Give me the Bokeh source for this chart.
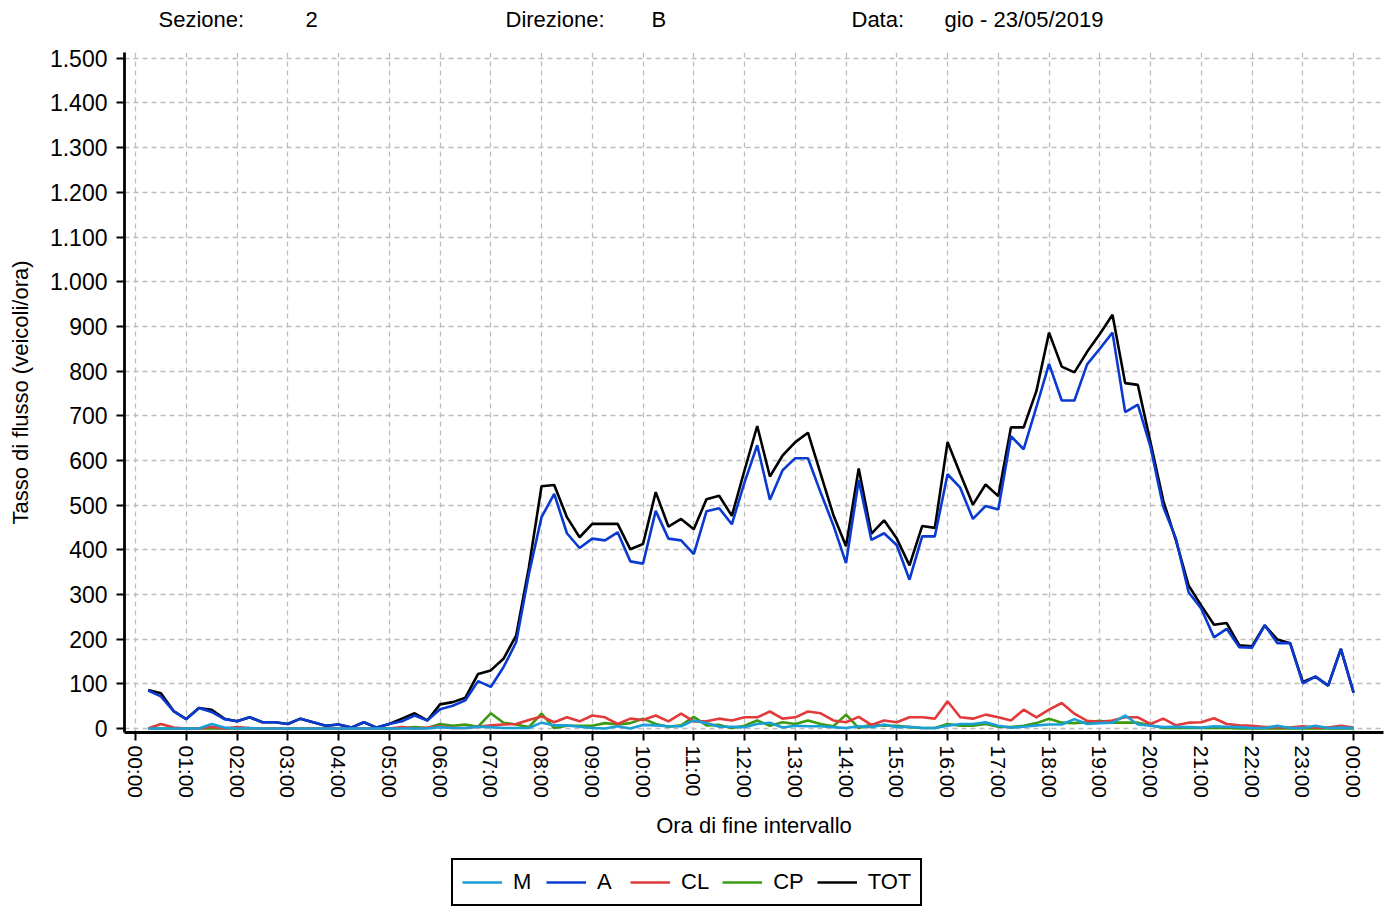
from bokeh.plotting import figure
from bokeh.models import Range1d, FixedTicker, Legend, LegendItem
from bokeh.layouts import column
from bokeh.core.properties import value
from bokeh.embed import file_html
from bokeh.resources import INLINE

# --- data -----------------------------------------------------------------
interval_end = [
    "00:15", "00:30", "00:45", "01:00", "01:15", "01:30", "01:45", "02:00",
    "02:15", "02:30", "02:45", "03:00", "03:15", "03:30", "03:45", "04:00",
    "04:15", "04:30", "04:45", "05:00", "05:15", "05:30", "05:45", "06:00",
    "06:15", "06:30", "06:45", "07:00", "07:15", "07:30", "07:45", "08:00",
    "08:15", "08:30", "08:45", "09:00", "09:15", "09:30", "09:45", "10:00",
    "10:15", "10:30", "10:45", "11:00", "11:15", "11:30", "11:45", "12:00",
    "12:15", "12:30", "12:45", "13:00", "13:15", "13:30", "13:45", "14:00",
    "14:15", "14:30", "14:45", "15:00", "15:15", "15:30", "15:45", "16:00",
    "16:15", "16:30", "16:45", "17:00", "17:15", "17:30", "17:45", "18:00",
    "18:15", "18:30", "18:45", "19:00", "19:15", "19:30", "19:45", "20:00",
    "20:15", "20:30", "20:45", "21:00", "21:15", "21:30", "21:45", "22:00",
    "22:15", "22:30", "22:45", "23:00", "23:15", "23:30", "23:45", "24:00",
]

tot = [86, 79, 39, 21, 46, 42, 22, 16, 25, 14, 14, 10, 22, 14, 6, 9, 2, 14, 2, 10, 22, 34, 18, 54,
       59, 69, 122, 130, 156, 208, 360, 542, 545, 473, 428, 458, 458, 458, 401, 413, 529, 452, 469, 446, 513, 521, 476, 578,
       677, 564, 611, 641, 662, 570, 478, 408, 582, 436, 466, 425, 365, 453, 449, 641, 570, 501, 546, 520, 674, 674, 755, 886,
       810, 797, 843, 883, 926, 773, 769, 640, 510, 421, 320, 275, 232, 236, 186, 184, 231, 199, 191, 104, 116, 96, 178, 80]

a = [85, 72, 39, 21, 46, 37, 21, 16, 25, 14, 14, 10, 22, 14, 6, 9, 2, 14, 2, 10, 16, 29, 18, 43,
     51, 63, 106, 93, 137, 193, 345, 473, 525, 437, 404, 425, 421, 439, 374, 369, 487, 425, 421, 390, 486, 493, 457, 551,
     634, 512, 578, 605, 605, 528, 455, 370, 556, 422, 437, 410, 333, 430, 430, 569, 539, 469, 498, 490, 654, 625, 719, 816,
     734, 734, 815, 850, 886, 708, 725, 630, 496, 425, 305, 268, 204, 223, 182, 181, 231, 191, 191, 101, 116, 96, 178, 80]

cl = [0, 10, 2, 0, 0, 4, 0, 3, 1, 0, 0, 0, 0, 0, 0, 0, 0, 0, 0, 0, 3, 0, 2, 5,
      1, 1, 4, 7, 9, 10, 19, 27, 14, 25, 16, 29, 25, 10, 22, 19, 29, 16, 33, 16, 16, 22, 18, 25,
      25, 38, 22, 25, 38, 34, 18, 14, 26, 8, 18, 14, 25, 25, 22, 61, 25, 22, 31, 25, 18, 42, 25, 42,
      57, 33, 17, 15, 18, 25, 25, 10, 22, 7, 13, 14, 23, 10, 7, 6, 3, 3, 2, 5, 2, 2, 6, 2]

cp = [0, 0, 0, 0, 0, 0, 0, 0, 0, 0, 0, 0, 0, 0, 0, 0, 0, 0, 0, 0, 1, 3, 1, 10,
      6, 9, 4, 34, 13, 9, 3, 33, 1, 6, 6, 6, 12, 9, 12, 22, 10, 4, 7, 26, 7, 8, 1, 6,
      18, 6, 14, 10, 18, 10, 5, 31, 1, 9, 6, 6, 3, 1, 1, 10, 6, 6, 10, 4, 3, 6, 12, 22,
      13, 12, 14, 17, 13, 13, 13, 7, 1, 1, 1, 1, 1, 1, 0, 0, 0, 0, 0, 0, 0, 0, 0, 0]

m = [0, 0, 0, 0, 0, 10, 2, 0, 1, 0, 0, 0, 0, 0, 0, 0, 0, 0, 0, 0, 0, 0, 0, 3,
     1, 1, 4, 3, 1, 1, 1, 13, 7, 7, 4, 1, 0, 5, 0, 8, 7, 5, 5, 18, 12, 4, 4, 3,
     10, 13, 2, 6, 5, 5, 3, 1, 5, 3, 9, 3, 4, 1, 1, 6, 10, 10, 14, 6, 2, 4, 7, 9,
     9, 21, 10, 12, 13, 29, 9, 6, 3, 4, 3, 2, 5, 4, 3, 1, 1, 6, 1, 1, 6, 1, 2, 1]

x_tick_hours = list(range(0, 25))
x_tick_labels = ["00:00", "01:00", "02:00", "03:00", "04:00", "05:00", "06:00", "07:00",
                 "08:00", "09:00", "10:00", "11:00", "12:00", "13:00", "14:00", "15:00",
                 "16:00", "17:00", "18:00", "19:00", "20:00", "21:00", "22:00", "23:00", "00:00"]
y_ticks = [0, 100, 200, 300, 400, 500, 600, 700, 800, 900, 1000, 1100, 1200, 1300, 1400, 1500]
y_tick_labels = ["0", "100", "200", "300", "400", "500", "600", "700", "800", "900",
                 "1.000", "1.100", "1.200", "1.300", "1.400", "1.500"]

header_texts = ["Sezione:", "2", "Direzione:", "B", "Data:", "gio - 23/05/2019"]
header_px = [158, 305, 505, 651, 851, 944]

series_names = ["M", "A", "CL", "CP", "TOT"]

# --- helpers ----------------------------------------------------------------
def to_hours(s):
    h, mm = s.split(":")
    return int(h) + int(mm) / 60.0

xs = [to_hours(s) for s in interval_end]

FONT = "Liberation Sans"
FS = "22px"
BL, FW, BR = 124, 1259, 3      # left border, frame width, right border (pixels)

# header strip (x in page pixels)
hdr = figure(frame_width=FW, frame_height=40, x_range=Range1d(BL, BL + FW), y_range=Range1d(40, 0),
             output_backend="svg", toolbar_location=None,
             min_border_left=BL, min_border_right=BR, min_border_top=0, min_border_bottom=0)
hdr.axis.visible = False
hdr.grid.visible = False
hdr.outline_line_color = None
hdr.text(x=header_px, y=[19] * len(header_px), text=header_texts,
         text_font=value(FONT), text_font_size=value(FS),
         text_baseline="middle", text_align="left", text_color="black")

# main chart
p = figure(frame_width=FW, frame_height=680,
           x_range=Range1d(-0.217, 24.59), y_range=Range1d(-9, 1513),
           output_backend="svg", toolbar_location=None,
           min_border_left=BL, min_border_right=BR, min_border_top=12, min_border_bottom=118,
           background_fill_color="white", border_fill_color="white")
p.outline_line_color = None

for g in (p.xgrid, p.ygrid):
    g.grid_line_color = "#bdbdbd"
    g.grid_line_dash = "5 4"
    g.grid_line_width = 1.3
p.xgrid.ticker = FixedTicker(ticks=x_tick_hours)
p.ygrid.ticker = FixedTicker(ticks=y_ticks)

p.xaxis.ticker = FixedTicker(ticks=x_tick_hours)
p.xaxis.major_label_overrides = {h: lab for h, lab in zip(x_tick_hours, x_tick_labels)}
p.xaxis.major_label_orientation = "vertical"
p.xaxis.axis_label = "Ora di fine intervallo"
p.yaxis.ticker = FixedTicker(ticks=y_ticks)
p.yaxis.major_label_overrides = {v: lab for v, lab in zip(y_ticks, y_tick_labels)}
p.yaxis.axis_label = "Tasso di flusso (veicoli/ora)"
for ax in (p.xaxis[0], p.yaxis[0]):
    ax.axis_line_width = 2.8
    ax.axis_line_color = "black"
    ax.major_tick_line_width = 2
    ax.major_tick_line_color = "black"
    ax.major_tick_out = 8
    ax.major_tick_in = 0
    ax.minor_tick_line_color = None
    ax.major_label_text_font = FONT
    ax.major_label_text_font_size = FS
    ax.major_label_text_color = "black"
    ax.axis_label_text_font = FONT
    ax.axis_label_text_font_size = FS
    ax.axis_label_text_font_style = "normal"
    ax.axis_label_text_color = "black"
p.xaxis.major_label_text_font_size = "21px"
p.yaxis.major_label_text_font_size = "23px"
p.xaxis.major_label_standoff = 5
p.xaxis.axis_label_standoff = 12
p.yaxis.major_label_standoff = 9
p.yaxis.axis_label_standoff = 14

colors = {"M": "#1a9ed6", "A": "#0a3ad0", "CL": "#e03a3a", "CP": "#3a9a10", "TOT": "#000000"}
series = {"M": m, "A": a, "CL": cl, "CP": cp, "TOT": tot}

for name in ["TOT", "CP", "CL", "A", "M"]:
    p.line(xs, series[name], line_color=colors[name], line_width=2.6)

# legend strip: proxy lines drawn far outside its visible range
lf = figure(frame_width=FW, frame_height=56, x_range=Range1d(0, 1), y_range=Range1d(5000, 5001),
            output_backend="svg", toolbar_location=None,
            min_border_left=BL, min_border_right=BR, min_border_top=0, min_border_bottom=0)
lf.axis.visible = False
lf.grid.visible = False
lf.outline_line_color = None
items = []
for name in series_names:
    r = lf.line(xs, series[name], line_color=colors[name], line_width=2.6)
    items.append(LegendItem(label=name, renderers=[r]))
legend = Legend(items=items, orientation="horizontal", location=(327, 0),
                border_line_color="black", border_line_width=2.2, border_line_alpha=1,
                background_fill_color="white", background_fill_alpha=1,
                label_text_font=FONT, label_text_font_size=FS, label_text_color="black",
                glyph_width=40, glyph_height=20, label_standoff=11, spacing=13,
                padding=9, margin=0)
lf.add_layout(legend, "center")

layout = column(hdr, p, lf, spacing=0)
open("out.html", "w").write(file_html(layout, INLINE))
